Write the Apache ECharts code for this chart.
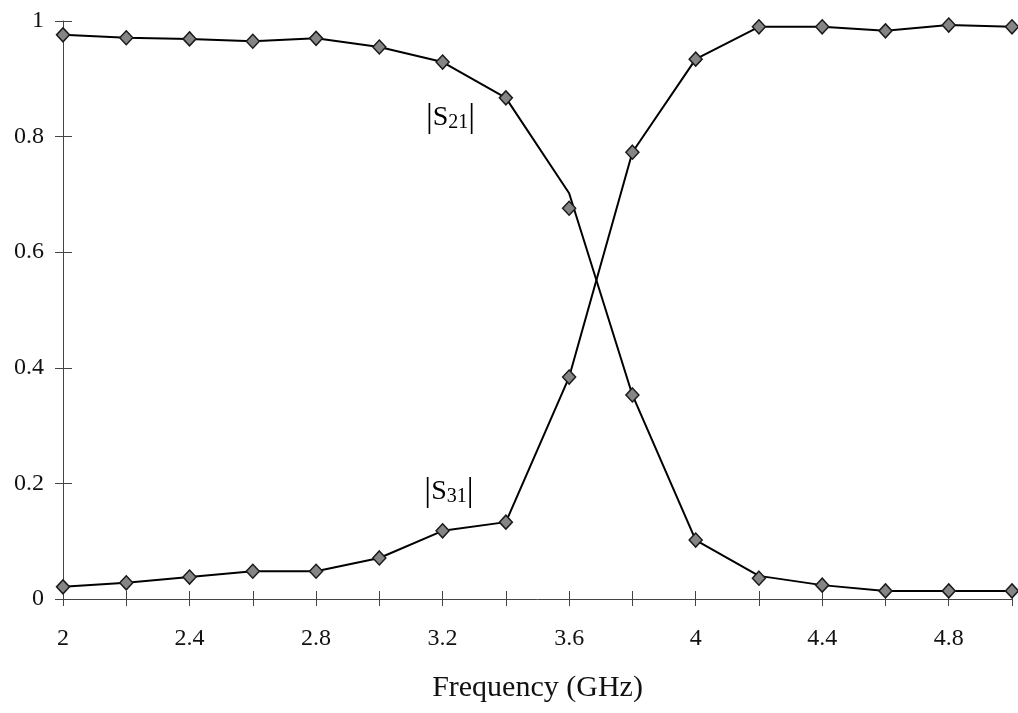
<!DOCTYPE html>
<html>
<head>
<meta charset="utf-8">
<script src="https://cdn.jsdelivr.net/npm/echarts@6/dist/echarts.min.js"></script>
<style>
  html, body { margin: 0; padding: 0; background: #fff; }
  #chart { width: 1018px; height: 713px; }
</style>
</head>
<body>
<div id="chart"></div>
<script>
// Frequency sweep (GHz)
const freq = [2.0, 2.2, 2.4, 2.6, 2.8, 3.0, 3.2, 3.4, 3.6, 3.8, 4.0, 4.2, 4.4, 4.6, 4.8, 5.0];

// |S21| measured points and the trace drawn through them
const s21Points = [0.976, 0.971, 0.969, 0.965, 0.970, 0.955, 0.929, 0.867, 0.676, 0.353, 0.102, 0.036, 0.024, 0.014, 0.014, 0.014];
const s21Trace  = [0.976, 0.971, 0.969, 0.965, 0.970, 0.955, 0.929, 0.867, 0.702, 0.353, 0.102, 0.040, 0.024, 0.014, 0.014, 0.014];

// |S31| measured points and the trace drawn through them
const s31Points = [0.021, 0.028, 0.038, 0.048, 0.048, 0.071, 0.118, 0.133, 0.384, 0.773, 0.934, 0.990, 0.990, 0.983, 0.993, 0.990];
const s31Trace  = s31Points;

const yTicks = [0, 0.2, 0.4, 0.6, 0.8, 1];
const xLabels = ['2', '2.4', '2.8', '3.2', '3.6', '4', '4.4', '4.8'];

// Curve tags placed in data coordinates
const curveTags = [
  { sub: '21', at: [3.225, 0.832] },
  { sub: '31', at: [3.22, 0.185] }
];

const font = '"Liberation Serif", "Times New Roman", serif';
const pair = (xs, ys) => xs.map((x, i) => [x, ys[i]]);

const axisLineStyle = { color: '#444', width: 1 };

const xBase = {
  type: 'value', min: 2, max: 5, interval: 0.2,
  splitLine: { show: false }
};
const yBase = {
  type: 'value', min: 0, max: 1, interval: 0.2,
  splitLine: { show: false }
};

const markerStyle = { color: '#858585', borderColor: '#1a1a1a', borderWidth: 1.5, opacity: 1 };

const chart = echarts.init(document.getElementById('chart'), null, { renderer: 'canvas' });

chart.setOption({
  backgroundColor: '#fff',
  animation: false,
  grid: { left: 63, right: 6, top: 21, bottom: 114, containLabel: false },
  xAxis: [
    Object.assign({}, xBase, {
      position: 'bottom',
      axisLine: { show: true, onZero: false, lineStyle: axisLineStyle },
      axisTick: { show: true, inside: false, length: 7, lineStyle: axisLineStyle },
      axisLabel: {
        margin: 28, color: '#111', fontFamily: font, fontSize: 24,
        formatter: function (v) {
          const s = String(+v.toFixed(1));
          return xLabels.indexOf(s) >= 0 ? s : '';
        }
      },
      name: 'Frequency (GHz)', nameLocation: 'middle', nameGap: 74,
      nameTextStyle: { color: '#111', fontFamily: font, fontSize: 30 }
    }),
    Object.assign({}, xBase, {
      position: 'bottom',
      axisLine: { show: false, onZero: false },
      axisTick: { show: true, inside: true, length: 8, lineStyle: axisLineStyle },
      axisLabel: { show: false }
    })
  ],
  yAxis: [
    Object.assign({}, yBase, {
      position: 'left',
      axisLine: { show: true, onZero: false, lineStyle: axisLineStyle },
      axisTick: { show: true, inside: false, length: 8, lineStyle: axisLineStyle },
      axisLabel: {
        margin: 19, color: '#111', fontFamily: font, fontSize: 24,
        formatter: function (v) {
          const s = String(+v.toFixed(1));
          return yTicks.map(String).indexOf(s) >= 0 ? s : '';
        }
      }
    }),
    Object.assign({}, yBase, {
      position: 'left',
      axisLine: { show: false, onZero: false },
      axisTick: { show: true, inside: true, length: 9, lineStyle: axisLineStyle },
      axisLabel: { show: false }
    })
  ],
  series: [
    {
      name: '|S21| trace', type: 'line', data: pair(freq, s21Trace),
      showSymbol: false, lineStyle: { color: '#000', width: 2 }, z: 2
    },
    {
      name: '|S31| trace', type: 'line', data: pair(freq, s31Trace),
      showSymbol: false, lineStyle: { color: '#000', width: 2 }, z: 2
    },
    {
      name: '|S21|', type: 'scatter', data: pair(freq, s21Points),
      symbol: 'diamond', symbolSize: [13, 14], itemStyle: markerStyle, z: 3
    },
    {
      name: '|S31|', type: 'scatter', data: pair(freq, s31Points),
      symbol: 'diamond', symbolSize: [13, 14], itemStyle: markerStyle, z: 3
    },
    {
      name: 'tags', type: 'scatter', symbolSize: 0, silent: true, z: 4,
      itemStyle: { opacity: 1 },
      data: curveTags.map(t => ({ value: t.at, sub: t.sub })),
      label: {
        show: true, position: 'inside', color: '#000',
        formatter: function (p) { return '{bar||}{s|S}{sub|' + p.data.sub + '}{bar||}'; },
        rich: {
          bar: { fontFamily: font, fontSize: 34, color: '#000', verticalAlign: 'middle' },
          s: { fontFamily: font, fontSize: 28, color: '#000', verticalAlign: 'middle' },
          sub: { fontFamily: font, fontSize: 20, color: '#000', verticalAlign: 'bottom', padding: [0, 0, 2, 0] }
        }
      }
    }
  ]
});
</script>
</body>
</html>
